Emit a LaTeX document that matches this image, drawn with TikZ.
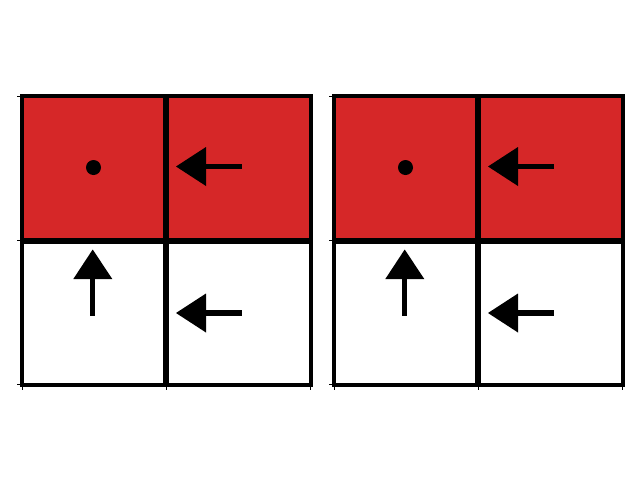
\documentclass[tikz,border=0pt]{standalone}
\definecolor{tabred}{HTML}{D62728}
\tikzset{
  cellred/.style={fill=tabred},
  frameline/.style={line width=3pt},
  innerline/.style={line width=4.5pt},
  tickline/.style={line width=0.6pt},
  shaft/.style={line width=4pt},
  headtri/.style={fill=black},
}
\newcommand{\mygrid}[1]{%
  \begin{scope}[xshift=#1*0.75pt]
    \fill[cellred] (22,96) rectangle (310.5,240.5);
    \draw[innerline] (166.3,96) -- (166.3,384.5);
    \draw[innerline] (22,240.5) -- (310.5,240.5);
    \draw[frameline] (22,96) rectangle (310.5,384.5);
    % ticks
    \foreach \yy in {96,240.5,384.5} \draw[tickline] (20.5,\yy) -- (17,\yy);
    \foreach \xx in {22,166.3,310.5} \draw[tickline] (\xx,386) -- (\xx,389.5);
    % dot
    \fill (93.5,167.5) circle (7.5);
    % left arrow top
    \draw[shaft] (206,166.5) -- (242,166.5);
    \fill[headtri] (176,166.5) -- (206,147) -- (206,186) -- cycle;
    % up arrow bottom-left
    \draw[shaft] (92.7,278) -- (92.7,315.5);
    \fill[headtri] (92.7,249.5) -- (73.3,279) -- (112.3,279) -- cycle;
    % left arrow bottom
    \draw[shaft] (206,313) -- (242,313);
    \fill[headtri] (176,313) -- (206,293.5) -- (206,332.5) -- cycle;
  \end{scope}}
\begin{document}
\begin{tikzpicture}[x=0.75pt,y=-0.75pt]
\useasboundingbox (0,0) rectangle (640,480);
\mygrid{0}
\mygrid{312}
\end{tikzpicture}
\end{document}
